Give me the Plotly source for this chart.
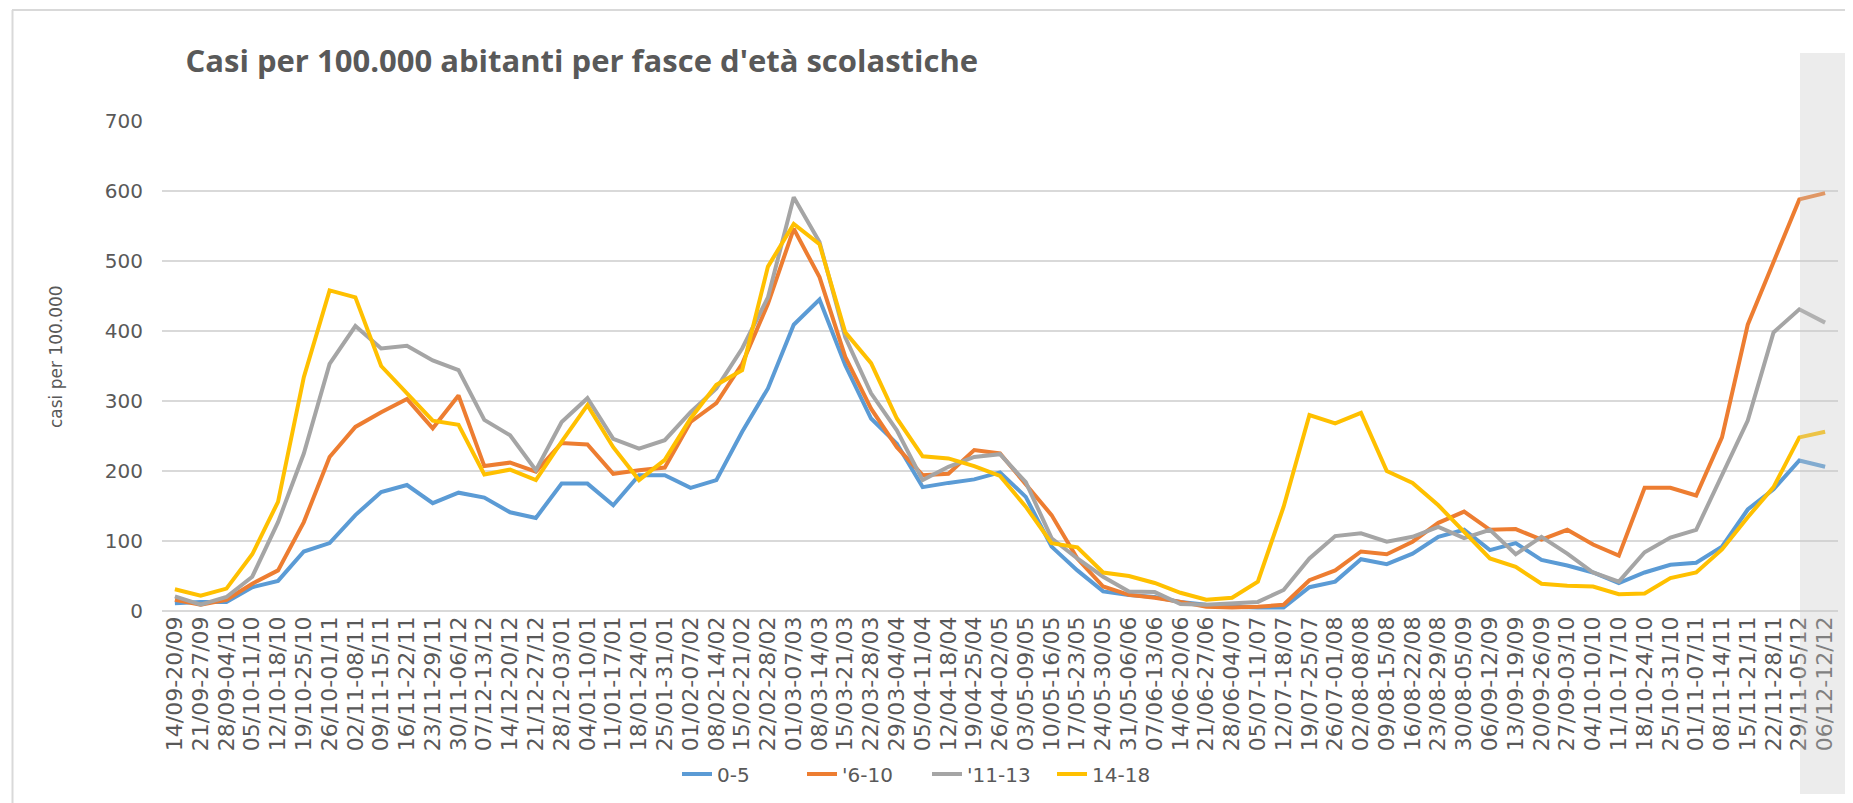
import plotly.graph_objects as go

# weekly windows, sept 2020 -> dec 2021
settimane = [
    "14/09-20/09", "21/09-27/09", "28/09-04/10", "05/10-11/10", "12/10-18/10",
    "19/10-25/10", "26/10-01/11", "02/11-08/11", "09/11-15/11", "16/11-22/11",
    "23/11-29/11", "30/11-06/12", "07/12-13/12", "14/12-20/12", "21/12-27/12",
    "28/12-03/01", "04/01-10/01", "11/01-17/01", "18/01-24/01", "25/01-31/01",
    "01/02-07/02", "08/02-14/02", "15/02-21/02", "22/02-28/02", "01/03-07/03",
    "08/03-14/03", "15/03-21/03", "22/03-28/03", "29/03-04/04", "05/04-11/04",
    "12/04-18/04", "19/04-25/04", "26/04-02/05", "03/05-09/05", "10/05-16/05",
    "17/05-23/05", "24/05-30/05", "31/05-06/06", "07/06-13/06", "14/06-20/06",
    "21/06-27/06", "28/06-04/07", "05/07-11/07", "12/07-18/07", "19/07-25/07",
    "26/07-01/08", "02/08-08/08", "09/08-15/08", "16/08-22/08", "23/08-29/08",
    "30/08-05/09", "06/09-12/09", "13/09-19/09", "20/09-26/09", "27/09-03/10",
    "04/10-10/10", "11/10-17/10", "18/10-24/10", "25/10-31/10", "01/11-07/11",
    "08/11-14/11", "15/11-21/11", "22/11-28/11", "29/11-05/12", "06/12-12/12",
]

eta_0_5 = [
    11, 13, 13, 34, 43, 85, 97, 137, 170, 180,
    154, 169, 162, 141, 133, 182, 182, 151, 194, 194,
    176, 187, 256, 318, 409, 445, 351, 275, 239, 177,
    183, 188, 198, 163, 92, 58, 28, 23, 20, 13,
    9, 6, 5, 5, 34, 42, 74, 67, 82, 106,
    116, 87, 97, 73, 65, 55, 40, 55, 66, 69,
    92, 145, 174, 215, 206,
]
eta_6_10 = [
    16, 9, 16, 39, 58, 127, 220, 263, 284, 303,
    261, 308, 207, 212, 199, 240, 238, 196, 201, 205,
    270, 297, 353, 439, 546, 477, 363, 289, 234, 194,
    196, 230, 225, 182, 137, 75, 35, 23, 19, 13,
    6, 5, 6, 9, 44, 58, 85, 81, 99, 126,
    142, 116, 117, 102, 116, 95, 79, 176, 176, 165,
    248, 409, 498, 588, 597,
]
eta_11_13 = [
    21, 9, 20, 49, 127, 225, 353, 407, 375, 379,
    358, 344, 273, 251, 201, 270, 304, 246, 232, 244,
    284, 318, 375, 448, 591, 527, 391, 311, 258, 187,
    206, 220, 224, 184, 104, 75, 49, 28, 27, 10,
    9, 11, 13, 30, 75, 107, 111, 99, 106, 120,
    104, 116, 81, 106, 82, 55, 42, 84, 105, 116,
    193, 272, 398, 431, 412,
]
eta_14_18 = [
    31, 22, 32, 81, 156, 334, 458, 448, 350, 310,
    272, 266, 195, 202, 187, 242, 294, 234, 187, 216,
    275, 323, 344, 492, 553, 524, 398, 354, 275, 221,
    218, 207, 193, 149, 97, 91, 55, 50, 40, 26,
    16, 19, 42, 149, 280, 268, 283, 200, 183, 151,
    113, 75, 63, 39, 36, 35, 24, 25, 47, 55,
    88, 134, 177, 248, 256,
]

serie = [
    ("0-5", eta_0_5, "#5B9BD5"),
    ("'6-10", eta_6_10, "#ED7D31"),
    ("'11-13", eta_11_13, "#A5A5A5"),
    ("14-18", eta_14_18, "#FFC000"),
]

# the page body has an 8px margin, so the figure sits at (8, 8) on screen
OFF = 8
W, H = 1853 - OFF, 803 - OFF
L, T = 162 - OFF, 121 - OFF
R, B = W - (1838 - OFF), H - (611 - OFF)
pw, ph = W - L - R, H - T - B

# screen pixel -> paper coords
def px_x(p):
    return (p - OFF - L) / pw

def px_y(p):
    return (H - B - (p - OFF)) / ph

grigio = "#595959"

fig = go.Figure()
for nome, valori, colore in serie:
    fig.add_trace(go.Scatter(
        x=settimane, y=valori, name=nome, mode="lines",
        line=dict(color=colore, width=4),
    ))

fig.update_layout(
    width=W, height=H,
    margin=dict(l=L, r=R, t=T, b=B, autoexpand=False),
    paper_bgcolor="white", plot_bgcolor="rgba(0,0,0,0)",
    title=dict(
        text="Casi per 100.000 abitanti per fasce d'età scolastiche",
        x=(185.5 - OFF) / W, xanchor="left", xref="container",
        y=1 - (61.5 - OFF) / H, yanchor="middle", yref="container",
        font=dict(family="Open Sans", size=31, color=grigio, weight=700),
    ),
    xaxis=dict(
        type="category", tickmode="array", tickvals=settimane, ticktext=settimane,
        tickangle=-90, range=[-0.5, len(settimane) - 0.5], automargin=False,
        showgrid=False, showline=False, zeroline=False,
        tickfont=dict(family="DejaVu Sans", size=22, color=grigio),
    ),
    yaxis=dict(
        range=[0, 700], dtick=100, automargin=False,
        gridcolor="#D9D9D9", gridwidth=1.5,
        zeroline=True, zerolinecolor="#D9D9D9", zerolinewidth=1.5,
        ticks="outside", ticklen=14, tickcolor="rgba(0,0,0,0)",
        tickfont=dict(family="DejaVu Sans", size=20, color=grigio),
    ),
    legend=dict(
        orientation="h", x=px_x(677), xanchor="left",
        y=px_y(774), yanchor="middle",
        entrywidth=80, entrywidthmode="pixels",
        font=dict(family="DejaVu Sans", size=20, color=grigio),
        bgcolor="rgba(0,0,0,0)",
    ),
    annotations=[dict(
        text="casi per 100.000", textangle=-90, showarrow=False,
        xref="paper", yref="paper", x=px_x(56), y=px_y(357),
        xanchor="center", yanchor="middle",
        font=dict(family="DejaVu Sans", size=17, color=grigio),
    )],
    shapes=[
        # banda grigia sull'ultima settimana
        dict(type="rect", xref="paper", yref="paper", layer="above",
             x0=px_x(1800), x1=px_x(1846), y0=px_y(794), y1=px_y(53),
             fillcolor="rgba(200,200,200,0.35)", line=dict(width=0)),
        # bordo del grafico
        dict(type="line", xref="paper", yref="paper",
             x0=px_x(12), x1=px_x(1853), y0=px_y(10), y1=px_y(10),
             line=dict(color="#D9D9D9", width=2)),
        dict(type="line", xref="paper", yref="paper",
             x0=px_x(12.5), x1=px_x(12.5), y0=px_y(10), y1=px_y(803),
             line=dict(color="#D9D9D9", width=2)),
    ],
)

fig.write_html("out.html")
